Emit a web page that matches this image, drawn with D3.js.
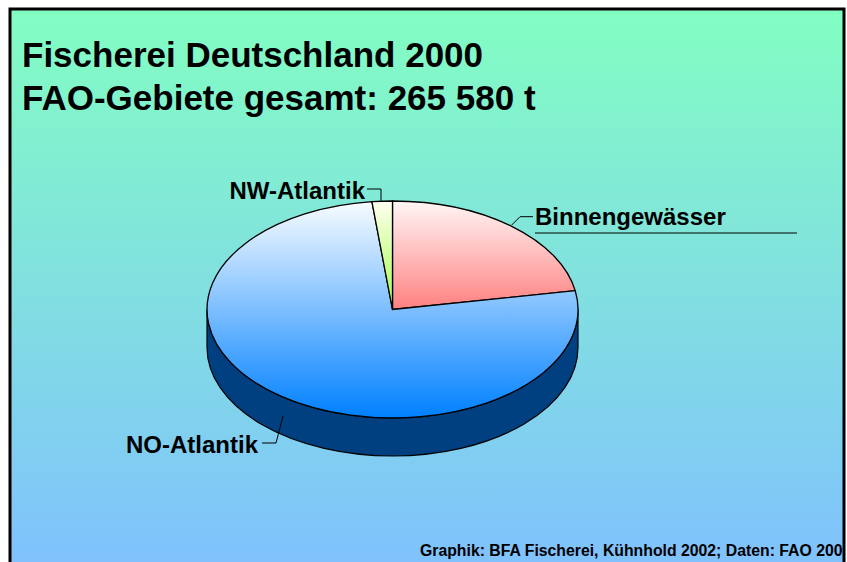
<!DOCTYPE html>
<html><head><meta charset="utf-8">
<script src="https://cdn.jsdelivr.net/npm/d3@7"></script>
<style>body{margin:0;background:#fff}svg{display:block}</style>
</head><body>
<script>
// ---- data ----
const categories = ["Binnengewässer", "NO-Atlantik", "NW-Atlantik"];
const values = [59000, 201880, 4700];   // t, total 265 580 t
const titleLines = ["Fischerei Deutschland 2000", "FAO-Gebiete gesamt: 265 580 t"];
const footer = "Graphik: BFA Fischerei, Kühnhold 2002; Daten: FAO 2002";

const W = 847, H = 562;
const svg = d3.select("body").append("svg").attr("width", W).attr("height", H);
const defs = svg.append("defs");

const bg = defs.append("linearGradient").attr("id","bg").attr("x1",0).attr("y1",0).attr("x2",0).attr("y2",1);
bg.append("stop").attr("offset","0%").attr("stop-color","#82FEC2");
bg.append("stop").attr("offset","100%").attr("stop-color","#80C0FF");

const grads = [
  ["#FFF6F6", "#FF8080"],
  ["#F8FCFF", "#0080FF"],
  ["#FFFFF0", "#A4FF48"]
];
grads.forEach((g,i)=>{
  const lg = defs.append("linearGradient").attr("id","g"+i).attr("x1",0).attr("y1",0).attr("x2",0).attr("y2",1);
  lg.append("stop").attr("offset","0%").attr("stop-color",g[0]);
  lg.append("stop").attr("offset","100%").attr("stop-color",g[1]);
});

defs.append("clipPath").attr("id","panelClip").append("rect")
  .attr("x",11).attr("y",10).attr("width",832).attr("height",560);

// panel
svg.append("rect").attr("x",10).attr("y",9).attr("width",834).attr("height",570)
  .attr("fill","url(#bg)").attr("stroke","#000").attr("stroke-width",3);

const panel = svg.append("g").attr("clip-path","url(#panelClip)");

// titles
panel.selectAll("text.title").data(titleLines).join("text")
  .attr("class","title")
  .attr("x",22).attr("y",(d,i)=>67 + i*43)
  .attr("font-family","Liberation Sans, Arial, sans-serif")
  .attr("font-weight","bold").attr("font-size",35)
  .attr("fill","#000").text(d=>d);

// footer
panel.append("text").attr("x",420).attr("y",556)
  .attr("font-family","Liberation Sans, Arial, sans-serif")
  .attr("font-weight","bold").attr("font-size",15.8).attr("fill","#000").text(footer);

// ---- 3D pie ----
const cx = 392.5, cy = 309.5, rx = 185.5, ry = 108.5, depth = 38;
const pie = d3.pie().sort(null).value(d=>d)(values);
const arc = d3.arc().innerRadius(0).outerRadius(1);
const pieG = panel.append("g").attr("transform",`translate(${cx},${cy}) scale(${rx},${ry})`);

// side walls (front half: angles PI/2 .. 3PI/2)
const dz = depth/ry;
pie.forEach((p,i)=>{
  const a0 = Math.max(p.startAngle, Math.PI/2), a1 = Math.min(p.endAngle, 3*Math.PI/2);
  if (a1 <= a0) return;
  const path = d3.path();
  path.moveTo(Math.sin(a0), -Math.cos(a0));
  path.arc(0,0,1,a0-Math.PI/2,a1-Math.PI/2,false);
  path.lineTo(Math.sin(a1), -Math.cos(a1)+dz);
  path.arc(0,dz,1,a1-Math.PI/2,a0-Math.PI/2,true);
  path.closePath();
  pieG.append("path").attr("d",path.toString())
    .attr("fill","#004080").attr("stroke","#000").attr("stroke-width",1.2)
    .attr("vector-effect","non-scaling-stroke");
});

// top faces
pieG.selectAll("path.top").data(pie).join("path")
  .attr("class","top")
  .attr("d",arc)
  .attr("fill",(d,i)=>`url(#g${i})`)
  .attr("stroke","#000").attr("stroke-width",1.3)
  .attr("vector-effect","non-scaling-stroke");

// labels with leader lines
const lblFont = {family:"Liberation Sans, Arial, sans-serif", size:24};

const labelSpec = [
  {i:0, text:categories[0], x:535, y:225, anchor:"start", line:[[511.7,225],[520,216.7],[533,216.7]], underline:[535,797,233]},
  {i:1, text:categories[1], x:126, y:453, anchor:"start", line:[[283,416],[276,443],[262,443]]},
  {i:2, text:categories[2], x:365, y:199, anchor:"end", line:[[381,201],[381,189],[367,189]]}
];
labelSpec.forEach(s=>{
  panel.append("path").attr("d", d3.line()(s.line)).attr("fill","none").attr("stroke","#000").attr("stroke-width",1);
  panel.append("text").attr("x",s.x).attr("y",s.y).attr("text-anchor",s.anchor)
    .attr("font-family",lblFont.family).attr("font-weight","bold").attr("font-size",lblFont.size)
    .attr("fill","#000").text(s.text);
  if (s.underline) panel.append("line").attr("x1",s.underline[0]).attr("x2",s.underline[1])
    .attr("y1",s.underline[2]).attr("y2",s.underline[2]).attr("stroke","#000").attr("stroke-width",1);
});
</script>
</body></html>
